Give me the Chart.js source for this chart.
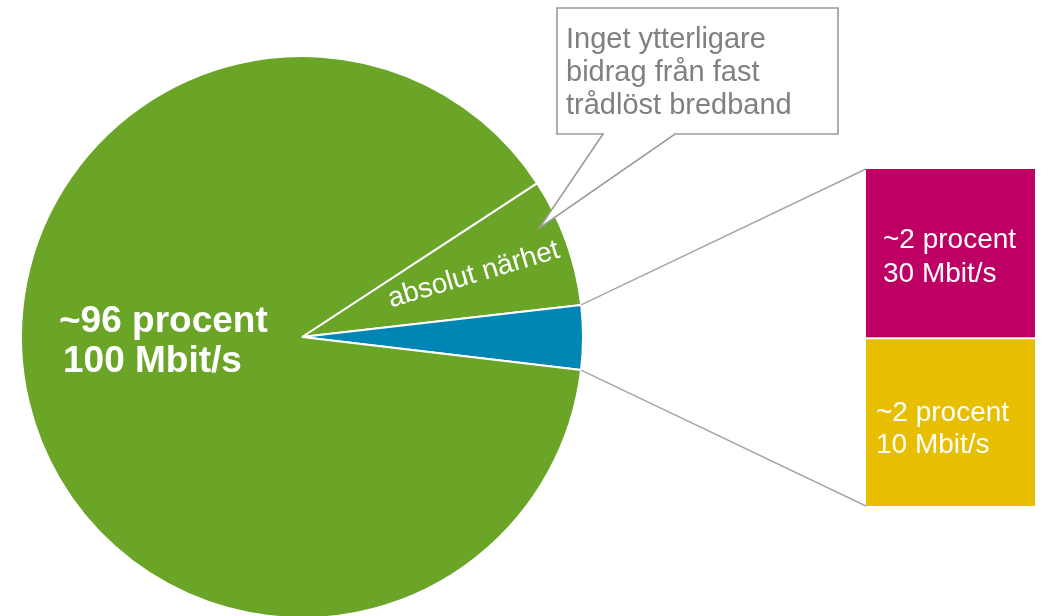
<!DOCTYPE html>
<html>
<head>
<meta charset="utf-8">
<script src="https://cdn.jsdelivr.net/npm/chart.js@4/dist/chart.umd.min.js"></script>
<style>
  html, body { margin: 0; padding: 0; background: #fff; overflow: hidden; width: 1041px; height: 616px; }
  canvas { position: absolute; left: 0; top: 0; }
</style>
</head>
<body>
<canvas id="pie" width="1041" height="640"></canvas>
<canvas id="bar" width="1041" height="616"></canvas>
<script>
// pie slices, clockwise from the "absolut närhet" slice
const pieLabels = ['absolut närhet', 'under 100 Mbit/s', '100 Mbit/s'];
const pieValues = [7.4, 3.7, 88.9];
const pieColors = ['#6aa528', '#0086b4', '#6aa528'];

// the split-out bar (bottom first)
const barLabels = ['10 Mbit/s', '30 Mbit/s'];
const barValues = [2, 2];
const barColors = ['#e8be00', '#be0064'];
const barText = [['~2 procent', '10 Mbit/s'], ['~2 procent', '30 Mbit/s']];

const bigText = ['~96 procent', '100 Mbit/s'];
const calloutText = ['Inget ytterligare', 'bidrag från fast', 'trådlöst bredband'];

const FONT = '"Liberation Sans", Arial, sans-serif';

const pieText = {
  id: 'pieText',
  afterDatasetsDraw(chart) {
    const ctx = chart.ctx;
    const arcs = chart.getDatasetMeta(0).data;
    const big = arcs[2];
    ctx.save();
    ctx.fillStyle = '#fff';
    ctx.font = 'bold 37px ' + FONT;
    ctx.textAlign = 'left';
    ctx.textBaseline = 'alphabetic';
    ctx.fillText(bigText[0], big.x - 243, big.y - 5);
    ctx.fillText(bigText[1], big.x - 239, big.y + 35);

    // rotated label in the small green slice
    const a = arcs[0];
    const mid = (a.startAngle + a.endAngle) / 2;
    const r = a.outerRadius * 0.65;
    ctx.translate(a.x + r * Math.cos(mid), a.y + r * Math.sin(mid));
    ctx.rotate(-16.5 * Math.PI / 180);
    ctx.font = '28px ' + FONT;
    ctx.textAlign = 'center';
    ctx.textBaseline = 'middle';
    ctx.fillText(pieLabels[0], 0, 0);
    ctx.restore();

    // callout box pointing at the small green slice
    const ta = a.startAngle + 0.32 * (a.endAngle - a.startAngle);
    const tr = a.outerRadius * 0.93;
    const tx = a.x + tr * Math.cos(ta), ty = a.y + tr * Math.sin(ta);
    ctx.save();
    ctx.beginPath();
    ctx.moveTo(557, 8);
    ctx.lineTo(838, 8);
    ctx.lineTo(838, 134);
    ctx.lineTo(675, 134);
    ctx.lineTo(tx, ty);
    ctx.lineTo(603, 134);
    ctx.lineTo(557, 134);
    ctx.closePath();
    ctx.fillStyle = '#fff';
    ctx.fill();
    ctx.strokeStyle = '#9a9a9a';
    ctx.lineWidth = 1.6;
    ctx.stroke();
    ctx.fillStyle = '#808080';
    ctx.font = '29px ' + FONT;
    ctx.textAlign = 'left';
    ctx.textBaseline = 'alphabetic';
    calloutText.forEach((t, i) => ctx.fillText(t, 566, 48 + i * 33));
    ctx.restore();
  }
};

const pieChart = new Chart(document.getElementById('pie'), {
  type: 'pie',
  data: {
    labels: pieLabels,
    datasets: [{
      data: pieValues,
      backgroundColor: pieColors,
      borderColor: '#fff',
      borderWidth: 2
    }]
  },
  options: {
    responsive: false,
    animation: false,
    events: [],
    rotation: 56.8,
    layout: { padding: { left: 20, top: 55, right: 457, bottom: 21 } },
    plugins: { legend: { display: false }, tooltip: { enabled: false } }
  },
  plugins: [pieText]
});

const connectors = {
  id: 'connectors',
  beforeDatasetsDraw(chart) {
    const ctx = chart.ctx;
    const blue = pieChart.getDatasetMeta(0).data[1];
    const low = chart.getDatasetMeta(0).data[0];
    const high = chart.getDatasetMeta(1).data[0];
    const R = blue.outerRadius;
    ctx.save();
    ctx.strokeStyle = '#a6a6a6';
    ctx.lineWidth = 1.5;
    ctx.beginPath();
    ctx.moveTo(blue.x + R * Math.cos(blue.startAngle), blue.y + R * Math.sin(blue.startAngle));
    ctx.lineTo(high.x - high.width / 2, high.y);
    ctx.moveTo(blue.x + R * Math.cos(blue.endAngle), blue.y + R * Math.sin(blue.endAngle));
    ctx.lineTo(low.x - low.width / 2, low.base);
    ctx.stroke();
    ctx.restore();
  },
  afterDatasetsDraw(chart) {
    const ctx = chart.ctx;
    const low = chart.getDatasetMeta(0).data[0];
    const high = chart.getDatasetMeta(1).data[0];
    ctx.save();
    ctx.fillStyle = '#fff';
    ctx.font = '28px ' + FONT;
    ctx.textAlign = 'left';
    ctx.textBaseline = 'alphabetic';
    const hx = high.x - high.width / 2 + 17, hy = (high.y + high.base) / 2;
    ctx.fillText(barText[1][0], hx, hy - 5);
    ctx.fillText(barText[1][1], hx, hy + 29);
    const lx = low.x - low.width / 2 + 10, ly = (low.y + low.base) / 2;
    ctx.fillText(barText[0][0], lx, ly - 1);
    ctx.fillText(barText[0][1], lx, ly + 31);
    ctx.restore();
  }
};

new Chart(document.getElementById('bar'), {
  type: 'bar',
  data: {
    labels: [''],
    datasets: barValues.map((v, i) => ({
      label: barLabels[i],
      data: [v],
      backgroundColor: barColors[i],
      borderColor: '#fff',
      borderWidth: i === 0 ? { top: 2, left: 0, right: 0, bottom: 0 } : 0,
      borderSkipped: false,
      barPercentage: 1,
      categoryPercentage: 1
    }))
  },
  options: {
    responsive: false,
    animation: false,
    events: [],
    layout: { padding: { left: 866, right: 6, top: 169, bottom: 110 } },
    scales: {
      x: { stacked: true, display: false },
      y: { stacked: true, display: false, min: 0, max: 4 }
    },
    plugins: { legend: { display: false }, tooltip: { enabled: false } }
  },
  plugins: [connectors]
});
</script>
</body>
</html>
